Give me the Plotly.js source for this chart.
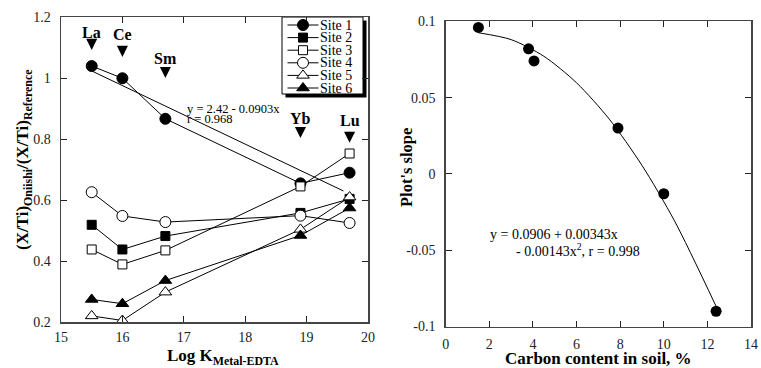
<!DOCTYPE html>
<html>
<head>
<meta charset="utf-8">
<script src="https://cdn.plot.ly/plotly-3.0.1.min.js"></script>
<style>html,body{margin:0;padding:0;background:#fff;}#chart{width:761px;height:368px;}</style>
</head>
<body>
<div id="chart"></div>
<script>
// ---------- data: left panel ----------
const elements = ['La', 'Ce', 'Sm', 'Yb', 'Lu'];
const logK = [15.5, 16.0, 16.7, 18.9, 19.7];
const siteNames = ['Site 1', 'Site 2', 'Site 3', 'Site 4', 'Site 5', 'Site 6'];
const site1 = [1.040, 1.000, 0.867, 0.655, 0.690];
const site2 = [0.519, 0.438, 0.482, 0.558, 0.604];
const site3 = [0.438, 0.389, 0.435, 0.645, 0.753];
const site4 = [0.626, 0.548, 0.528, 0.549, 0.525];
const site5 = [0.220, 0.205, 0.298, 0.504, 0.610];
const site6 = [0.274, 0.260, 0.336, 0.484, 0.574];
const regX = [15.5, 19.6];
const regY = [1.024, 0.630];
const leftXTicks = [15, 16, 17, 18, 19, 20];
const leftYTicks = [0.2, 0.4, 0.6, 0.8, 1.0, 1.2];

// ---------- data: right panel ----------
const carbon = [1.5, 3.8, 4.05, 7.9, 10.0, 12.4];
const plotSlope = [0.096, 0.082, 0.074, 0.030, -0.013, -0.090];
const fitX = [1.5, 3.0, 4.5, 6.0, 7.5, 9.0, 10.5, 12.4];
const fitY = [0.0925, 0.0880, 0.0771, 0.0597, 0.0359, 0.0056, -0.0310, -0.0868];
const rightXTicks = [0, 2, 4, 6, 8, 10, 12, 14];
const rightYTicks = [-0.1, -0.05, 0, 0.05, 0.1];
const rightYTickText = ['-0.1', '-0.05', '0', '0.05', '0.1'];

// ---------- styles ----------
const SERIF = 'Liberation Serif';
const siteData = [site1, site2, site3, site4, site5, site6];
const siteStyle = [
  {symbol: 'circle', fill: 'black', size: 11},
  {symbol: 'square', fill: 'black', size: 9},
  {symbol: 'square', fill: 'white', size: 9},
  {symbol: 'circle', fill: 'white', size: 11},
  {symbol: 'triangle-up', fill: 'white', size: 11},
  {symbol: 'triangle-up', fill: 'black', size: 11}
];
// label / arrow tip positions (y values on the left axis)
const labelY = [1.150, 1.145, 1.065, 0.867, 0.862];
const tipY = [1.093, 1.070, 1.001, 0.804, 0.788];

const traces = [];
traces.push({x: regX, y: regY, mode: 'lines', line: {color: 'black', width: 1}, xaxis: 'x', yaxis: 'y', showlegend: false, hoverinfo: 'skip'});
siteData.forEach((vals, i) => {
  const st = siteStyle[i];
  traces.push({
    x: logK, y: vals, mode: 'lines+markers', name: siteNames[i], xaxis: 'x', yaxis: 'y', showlegend: false,
    line: {color: 'black', width: 1},
    marker: {symbol: st.symbol, size: st.size, color: st.fill, line: {color: 'black', width: 1}}
  });
});
// custom legend samples on x3/y3
siteNames.forEach((nm, i) => {
  const st = siteStyle[i];
  traces.push({x: [5.5, 36.5], y: [i + 1, i + 1], mode: 'lines', line: {color: 'black', width: 1}, xaxis: 'x3', yaxis: 'y3', showlegend: false, hoverinfo: 'skip'});
  traces.push({x: [21], y: [i + 1], mode: 'markers', xaxis: 'x3', yaxis: 'y3', showlegend: false, hoverinfo: 'skip',
    marker: {symbol: st.symbol, size: st.size, color: st.fill, line: {color: 'black', width: 1}}});
});
// right panel
traces.push({x: fitX, y: fitY, mode: 'lines', line: {color: 'black', width: 1, shape: 'spline', smoothing: 0.8}, xaxis: 'x2', yaxis: 'y2', showlegend: false, hoverinfo: 'skip'});
traces.push({x: carbon, y: plotSlope, mode: 'markers', xaxis: 'x2', yaxis: 'y2', showlegend: false,
  marker: {symbol: 'circle', size: 11, color: 'black'}});

const W = 761, H = 368;
const px = v => v / W;
const py = v => 1 - v / H;

const tickFont = {family: SERIF, size: 14, color: '#222'};
const axCommon = {
  showline: true, linecolor: '#444', linewidth: 1.5, mirror: 'ticks',
  ticks: 'inside', ticklen: 6, tickwidth: 1, tickcolor: '#222',
  showgrid: false, zeroline: false,
  tickfont: tickFont
};
const txt = (x, y, text, size, extra) => Object.assign({x: x, y: y, xref: 'paper', yref: 'paper', text: text, showarrow: false,
  xanchor: 'left', yanchor: 'middle', font: {family: SERIF, size: size, color: 'black'}}, extra || {});

const annotations = [];
elements.forEach((el, i) => {
  annotations.push({x: logK[i], y: labelY[i], xref: 'x', yref: 'y', text: '<b>' + el + '</b>', showarrow: false,
    xanchor: 'center', yanchor: 'middle', font: {family: SERIF, size: 16, color: 'black'}});
  annotations.push({x: logK[i], y: tipY[i], xref: 'x', yref: 'y', text: ' ', font: {size: 1},
    showarrow: true, ax: 0, ay: -13, arrowhead: 2, arrowsize: 1.7, arrowwidth: 1.3, arrowcolor: 'black', standoff: 0});
});
annotations.push(txt(px(185), py(109), 'y = 2.42 - 0.0903x', 12.5));
annotations.push(txt(px(185), py(118.5), 'r = 0.968', 12.5));
siteNames.forEach((nm, i) => {
  annotations.push({x: 36, y: i + 1, xref: 'x3', yref: 'y3', xanchor: 'left', yanchor: 'middle', text: nm, showarrow: false,
    font: {family: SERIF, size: 14, color: 'black'}});
});
annotations.push(txt(px(488), py(234), 'y = 0.0906 + 0.00343x', 14));
annotations.push(txt(px(514), py(250), '- 0.00143x<sup>2</sup>, r = 0.998', 14));
// axis titles
annotations.push(txt(px(24), py(160), '<b>(X/Ti)<sub>Oniishi</sub>/(X/Ti)<sub>Reference</sub></b>', 17, {xanchor: 'center', textangle: -90}));
annotations.push(txt(px(406), py(168), "<b>Plot's slope</b>", 16.5, {xanchor: 'center', textangle: -90}));
annotations.push(txt(px(223), py(357), '<b>Log K<sub>Metal-EDTA</sub></b>', 17, {xanchor: 'center'}));

const layout = {
  width: W, height: H,
  margin: {l: 0, r: 0, t: 0, b: 0},
  font: {family: SERIF, size: 14, color: '#222'},
  paper_bgcolor: 'white', plot_bgcolor: 'rgba(0,0,0,0)',
  showlegend: false,
  xaxis: Object.assign({}, axCommon, {domain: [px(61), px(368)], anchor: 'y', range: [15, 20], tickvals: leftXTicks,
    ticklabelstandoff: 2}),
  yaxis: Object.assign({}, axCommon, {domain: [py(322), py(17.3)], anchor: 'x', range: [0.2, 1.2], tickvals: leftYTicks,
    ticklabelstandoff: 6}),
  xaxis2: Object.assign({}, axCommon, {domain: [px(445.7), px(751)], anchor: 'y2', range: [0, 14], tickvals: rightXTicks,
    ticklabelstandoff: 4,
    title: {text: '<b>Carbon content in soil, %</b>', font: {family: SERIF, size: 17, color: 'black'}, standoff: 9}}),
  yaxis2: Object.assign({}, axCommon, {domain: [py(326.5), py(21.3)], anchor: 'x2', range: [-0.1, 0.1], tickvals: rightYTicks, ticktext: rightYTickText,
    ticklabelstandoff: 6}),
  xaxis3: {domain: [px(282), px(363)], anchor: 'y3', range: [0, 81], visible: false, fixedrange: true},
  yaxis3: {domain: [py(94), py(17)], anchor: 'x3', range: [6.476, 0.365], visible: false, fixedrange: true},
  shapes: [
    {type: 'rect', xref: 'paper', yref: 'paper', x0: px(285.5), x1: px(366.5), y0: py(97.5), y1: py(20.5), fillcolor: 'black', line: {width: 0}, layer: 'below'},
    {type: 'rect', xref: 'paper', yref: 'paper', x0: px(282), x1: px(363), y0: py(94), y1: py(17), fillcolor: 'white', line: {color: 'black', width: 1}, layer: 'below'}
  ],
  annotations: annotations
};

Plotly.newPlot('chart', traces, layout, {staticPlot: true, displayModeBar: false});
</script>
</body>
</html>
